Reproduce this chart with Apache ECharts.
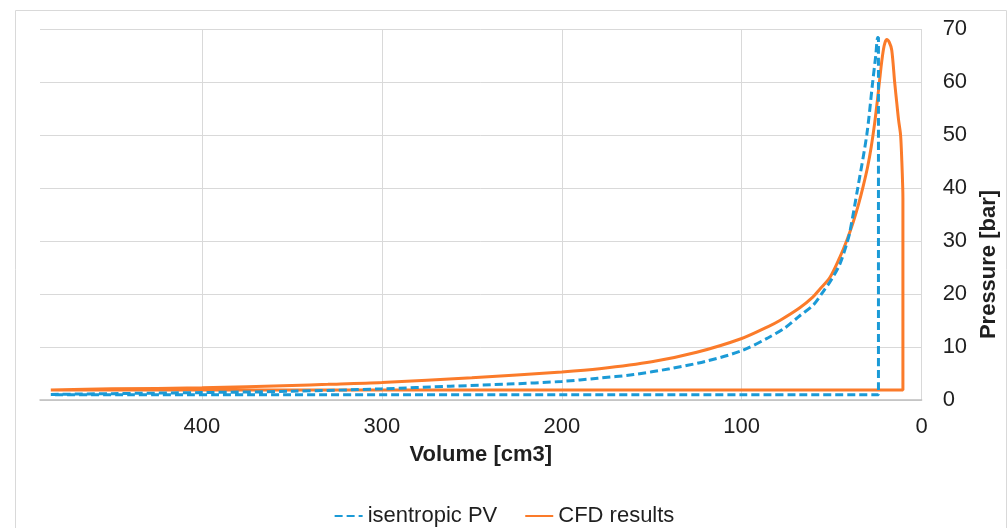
<!DOCTYPE html>
<html>
<head>
<meta charset="utf-8">
<script src="https://cdn.jsdelivr.net/npm/echarts@6/dist/echarts.min.js"></script>
<style>
  html, body { margin: 0; padding: 0; background: #fff; }
  #chart { width: 1008px; height: 528px; }
</style>
</head>
<body>
<div id="chart"></div>
<script>
// isentropic PV: compression curve, then drop at TDC, then back along the bottom
const isentropicVolume = [484, 450, 400, 350, 300, 262, 230, 200, 180, 160, 140, 120, 100, 85, 76, 67.7, 60, 55, 50, 45.5, 41.6, 40, 35.5, 30.5, 27.2, 25.5, 24.4, 24, 24, 484];
const isentropicPressure = [1.05, 1.2, 1.4, 1.65, 2.1, 2.6, 3.0, 3.5, 4.1, 4.8, 5.9, 7.3, 9.3, 11.8, 13.6, 15.9, 18.0, 20.3, 22.8, 25.6, 29.5, 31.5, 40, 50, 60, 65, 68.4, 68.4, 1.0, 1.0];

// CFD results
const cfdVolume = [484, 450, 400, 350, 330, 300, 250, 200, 179, 150, 125, 100, 85, 78.8, 67.7, 60.5, 56.6, 51, 45.5, 41.6, 38, 35, 32.5, 30, 28, 26.2, 24.6, 23.3, 22.2, 21.2, 20.3, 19.4, 18, 16.6, 15, 13.8, 12.8, 11.7, 11, 10.5, 10.4, 10.4, 484];
const cfdPressure = [1.9, 2.1, 2.3, 2.75, 2.95, 3.3, 4.2, 5.3, 5.9, 7.2, 9.0, 11.6, 13.9, 15.0, 17.4, 19.4, 20.9, 23.1, 26.9, 30.1, 33.6, 37, 40.3, 44, 47.8, 52, 56.5, 60.5, 63.8, 66.2, 67.5, 68, 67.5, 66, 60, 56, 52.8, 50, 45, 40, 38, 1.9, 1.9];

const seriesNames = ['isentropic PV', 'CFD results'];

function pairs(xs, ys) {
  return xs.map((x, i) => [x, ys[i]]);
}

const textColor = '#1f1f1f';
const font = 'Liberation Sans, Arial, sans-serif';

const chart = echarts.init(document.getElementById('chart'));
chart.setOption({
  animation: false,
  textStyle: { fontFamily: font },
  graphic: [{
    type: 'rect',
    silent: true,
    shape: { x: 15.5, y: 10.5, width: 991, height: 540 },
    style: { fill: 'none', stroke: '#d9d9d9', lineWidth: 1 }
  }],
  grid: { left: 40, right: 86, top: 29, bottom: 128 },
  legend: {
    data: seriesNames,
    top: 500,
    left: 'center',
    itemWidth: 28,
    itemHeight: 14,
    itemGap: 27,
    itemStyle: { opacity: 0 },
    textStyle: { fontSize: 22, color: textColor, fontFamily: font }
  },
  xAxis: {
    type: 'value',
    inverse: true,
    min: 0,
    max: 490,
    interval: 100,
    name: 'Volume [cm3]',
    nameLocation: 'middle',
    nameGap: 44,
    nameTextStyle: { fontSize: 22, fontWeight: 'bold', color: textColor, fontFamily: font },
    axisLine: { lineStyle: { color: '#bfbfbf', width: 1.5 } },
    axisTick: { show: false },
    axisLabel: { fontSize: 22, color: textColor, margin: 16, showMaxLabel: false },
    splitLine: { lineStyle: { color: '#d9d9d9' }, showMaxLine: false }
  },
  yAxis: {
    type: 'value',
    position: 'right',
    min: 0,
    max: 70,
    interval: 10,
    name: 'Pressure [bar]',
    nameLocation: 'middle',
    nameRotate: 90,
    nameGap: 47,
    nameTextStyle: { fontSize: 22, fontWeight: 'bold', color: textColor, fontFamily: font, padding: [0, 100, 0, 0] },
    axisLine: { show: false },
    axisTick: { show: false },
    axisLabel: { fontSize: 22, color: textColor, margin: 21 },
    splitLine: { lineStyle: { color: '#d9d9d9' } }
  },
  series: [
    {
      name: seriesNames[0],
      type: 'line',
      data: pairs(isentropicVolume, isentropicPressure),
      symbol: 'none',
      smooth: 0.3,
      color: '#1b9ad6',
      lineStyle: { width: 3, type: [8, 4] },
      z: 3
    },
    {
      name: seriesNames[1],
      type: 'line',
      data: pairs(cfdVolume, cfdPressure),
      symbol: 'none',
      smooth: 0.3,
      color: '#fb7b2a',
      lineStyle: { width: 3 },
      z: 2
    }
  ]
});
</script>
</body>
</html>
